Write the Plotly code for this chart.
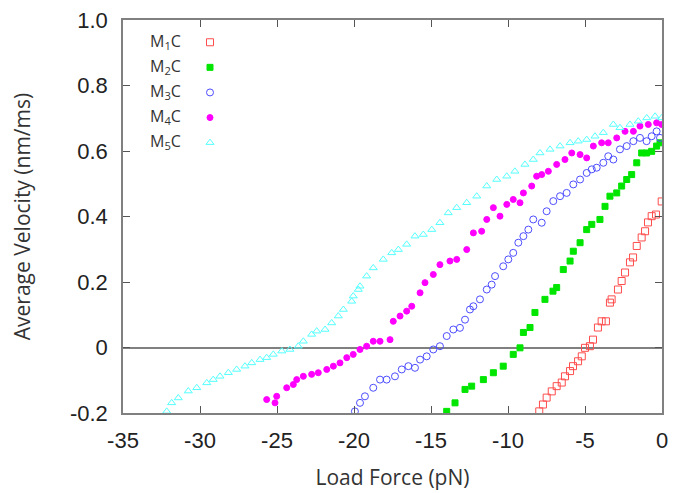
import plotly.graph_objects as go

# ---------------- data ----------------
m1_x = [-7.97, -7.73, -7.49, -7.16, -6.84, -6.51, -6.30, -5.97, -5.78, -5.45, -5.21, -5.00,
        -4.68, -4.48, -4.16, -3.92, -3.64, -3.38, -3.27, -2.86, -2.62, -2.40, -2.08, -1.88,
        -1.64, -1.32, -1.10, -0.91, -0.67, -0.39, -0.02]
m1_y = [-0.195, -0.174, -0.153, -0.134, -0.118, -0.107, -0.088, -0.072, -0.057, -0.042, -0.027, -0.001,
        0.004, 0.024, 0.061, 0.080, 0.080, 0.137, 0.147, 0.177, 0.203, 0.229, 0.260, 0.275,
        0.310, 0.336, 0.355, 0.382, 0.401, 0.406, 0.446]

m2_x = [-13.98, -13.44, -12.79, -12.36, -11.60, -10.95, -10.31, -9.66, -9.22, -9.00, -8.57, -8.25,
        -7.60, -7.08, -6.84, -6.41, -5.97, -5.76, -5.32, -4.89, -4.56, -4.03, -3.70, -3.38,
        -2.94, -2.62, -2.29, -1.97, -1.64, -1.32, -1.00, -0.67, -0.35, -0.13]
m2_y = [-0.195, -0.169, -0.128, -0.118, -0.098, -0.077, -0.057, -0.021, -0.001, 0.046, 0.061, 0.107,
        0.147, 0.172, 0.183, 0.238, 0.264, 0.294, 0.320, 0.360, 0.376, 0.391, 0.431, 0.462,
        0.472, 0.493, 0.513, 0.528, 0.564, 0.594, 0.594, 0.599, 0.615, 0.625]

m3_x = [-19.94, -19.61, -19.29, -18.75, -18.31, -17.88, -17.34, -16.90, -16.47, -16.04, -15.71, -15.28,
        -14.85, -14.42, -13.98, -13.55, -13.12, -12.79, -12.47, -12.25, -11.82, -11.38, -11.06, -10.84,
        -10.31, -9.98, -9.66, -9.33, -9.00, -8.68, -8.36, -7.81, -7.49, -7.06, -6.62, -6.19,
        -5.76, -5.32, -4.89, -4.56, -4.24, -3.81, -3.49, -3.16, -2.73, -2.29, -1.86, -1.43,
        -1.00, -0.67, -0.35, -0.13]
m3_y = [-0.195, -0.169, -0.149, -0.123, -0.098, -0.098, -0.088, -0.067, -0.057, -0.062, -0.037, -0.027,
        -0.006, 0.004, 0.035, 0.055, 0.060, 0.085, 0.116, 0.126, 0.147, 0.177, 0.192, 0.218,
        0.248, 0.269, 0.289, 0.320, 0.340, 0.360, 0.391, 0.381, 0.416, 0.447, 0.462, 0.472,
        0.498, 0.513, 0.533, 0.544, 0.549, 0.564, 0.584, 0.574, 0.605, 0.615, 0.630, 0.640,
        0.630, 0.645, 0.660, 0.640]

m4_x = [-25.67, -25.13, -25.02, -24.37, -23.94, -23.72, -23.29, -22.75, -22.32, -21.77, -21.34, -20.91,
        -20.47, -20.05, -19.61, -19.18, -18.75, -18.31, -17.66, -17.45, -17.01, -16.58, -16.25, -15.71,
        -15.39, -14.85, -14.42, -13.77, -13.33, -12.68, -12.25, -11.71, -11.38, -10.95, -10.52, -10.08,
        -9.66, -9.22, -9.00, -8.46, -8.14, -7.81, -7.38, -6.84, -6.30, -5.86, -5.32, -4.89,
        -4.46, -3.92, -3.49, -2.94, -2.40, -1.86, -1.43, -0.89, -0.35, -0.02]
m4_y = [-0.159, -0.169, -0.149, -0.123, -0.113, -0.098, -0.088, -0.082, -0.077, -0.067, -0.057, -0.047,
        -0.031, -0.021, -0.006, 0.004, 0.019, 0.019, 0.024, 0.080, 0.096, 0.111, 0.126, 0.167,
        0.198, 0.223, 0.253, 0.264, 0.269, 0.299, 0.350, 0.355, 0.391, 0.427, 0.401, 0.437,
        0.452, 0.442, 0.472, 0.493, 0.523, 0.528, 0.538, 0.559, 0.574, 0.594, 0.589, 0.579,
        0.615, 0.625, 0.625, 0.640, 0.660, 0.660, 0.676, 0.681, 0.686, 0.681]

m5_x = [-32.16, -31.84, -31.41, -30.76, -30.21, -29.56, -29.14, -28.70, -28.16, -27.62, -27.08, -26.64,
        -26.10, -25.67, -25.24, -24.69, -24.16, -23.62, -23.29, -22.75, -22.42, -21.88, -21.45, -21.02,
        -20.69, -20.15, -20.05, -19.72, -19.61, -19.18, -18.75, -18.10, -17.55, -17.12, -16.58, -16.04,
        -15.50, -14.95, -14.42, -13.88, -13.33, -12.68, -12.03, -11.38, -10.73, -10.08, -9.55, -8.90,
        -8.36, -7.92, -7.27, -6.62, -5.97, -5.44, -4.89, -4.35, -3.81, -3.16, -2.73, -2.08,
        -1.54, -0.99, -0.45, -0.02]
m5_y = [-0.195, -0.169, -0.154, -0.133, -0.123, -0.108, -0.098, -0.088, -0.077, -0.067, -0.057, -0.047,
        -0.037, -0.031, -0.021, -0.011, -0.006, 0.004, 0.019, 0.040, 0.050, 0.055, 0.075, 0.096,
        0.116, 0.141, 0.157, 0.177, 0.187, 0.218, 0.243, 0.269, 0.289, 0.299, 0.315, 0.340,
        0.345, 0.360, 0.381, 0.411, 0.427, 0.442, 0.462, 0.493, 0.513, 0.523, 0.538, 0.559,
        0.574, 0.594, 0.605, 0.615, 0.625, 0.630, 0.635, 0.645, 0.656, 0.681, 0.671, 0.681,
        0.691, 0.701, 0.706, 0.701]

series_labels = ["M<sub>1</sub>C", "M<sub>2</sub>C", "M<sub>3</sub>C", "M<sub>4</sub>C", "M<sub>5</sub>C"]
x_ticks = [-35, -30, -25, -20, -15, -10, -5, 0]
x_ticktext = ["-35", "-30", "-25", "-20", "-15", "-10", "-5", "0"]
y_ticks = [-0.2, 0, 0.2, 0.4, 0.6, 0.8, 1.0]
y_ticktext = ["-0.2", "0", "0.2", "0.4", "0.6", "0.8", "1.0"]

# ---------------- styles ----------------
styles = [
    dict(symbol="square-open", color="#ff4d4d", size=7),
    dict(symbol="square", color="#00e600", size=6),
    dict(symbol="circle-open", color="#4d4dff", size=7),
    dict(symbol="circle", color="#ff00ff", size=6),
    dict(symbol="triangle-up-open", color="#55ffff", size=7),
]
xs = [m1_x, m2_x, m3_x, m4_x, m5_x]
ys = [m1_y, m2_y, m3_y, m4_y, m5_y]

fig = go.Figure()
for x, y, st, lab in zip(xs, ys, styles, series_labels):
    fig.add_trace(go.Scatter(
        x=x, y=y, mode="markers", name=" ",
        marker=dict(symbol=st["symbol"], color=st["color"], size=st["size"],
                    line=dict(color=st["color"], width=1)),
        hovertext=lab, showlegend=True,
    ))

W, H = 674, 493
ml, mr, mt, mb = 123, 12, 20, 80
pw, ph = W - ml - mr, H - mt - mb

# legend geometry (pixels)
leg_left_px = 190
leg_top_px = 24.7
row_h = 25
label_left_px = 148
first_row_center_px = 41.7

for i, lab in enumerate(series_labels):
    cy = first_row_center_px + i * row_h
    fig.add_annotation(
        xref="paper", yref="paper",
        x=(label_left_px - ml) / pw, y=(H - mb - cy) / ph,
        xanchor="left", yanchor="middle", showarrow=False,
        text=lab, font=dict(family="Open Sans", size=16, color="#333333"),
    )

axis_common = dict(
    showline=True, linecolor="#808080", linewidth=1.5, mirror="ticks",
    ticks="inside", ticklen=7, tickwidth=1.2, tickcolor="#555555",
    showgrid=False,
    tickfont=dict(family="Liberation Sans", size=22, color="#222222"),
)

fig.update_layout(
    width=W, height=H,
    margin=dict(l=ml, r=mr, t=mt, b=mb, autoexpand=False),
    paper_bgcolor="white", plot_bgcolor="white",
    showlegend=True,
    legend=dict(
        x=(leg_left_px - ml) / pw, y=(H - mb - leg_top_px) / ph,
        xanchor="left", yanchor="top",
        bgcolor="rgba(0,0,0,0)", borderwidth=0, tracegroupgap=0,
        font=dict(family="Open Sans", size=17),
        itemclick=False, itemdoubleclick=False,
    ),
    xaxis=dict(
        range=[-35, 0], tickvals=x_ticks, ticktext=x_ticktext,
        zeroline=False, ticklabelstandoff=7,
        title=dict(text="Load Force (pN)", standoff=18,
                   font=dict(family="Open Sans", size=21, color="#333333")),
        **axis_common,
    ),
    yaxis=dict(
        range=[-0.2, 1.0], tickvals=y_ticks, ticktext=y_ticktext,
        zeroline=True, zerolinecolor="#808080", zerolinewidth=1.5,
        ticklabelstandoff=9,
        title=dict(text="Average Velocity (nm/ms)", standoff=34,
                   font=dict(family="Open Sans", size=21, color="#333333")),
        **axis_common,
    ),
)

fig.write_html("out.html")
